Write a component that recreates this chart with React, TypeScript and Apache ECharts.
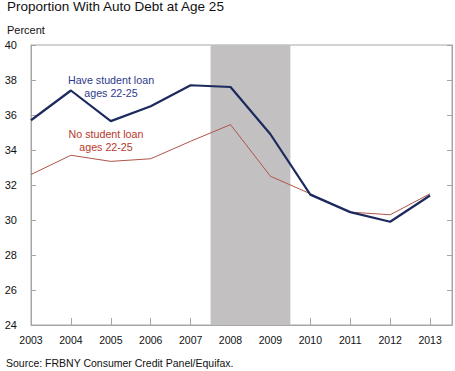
import React, { useEffect, useRef } from "react";
import * as echarts from "echarts";

const years = [2003, 2004, 2005, 2006, 2007, 2008, 2009, 2010, 2011, 2012, 2013];
const haveLoan = [35.7, 37.4, 35.65, 36.5, 37.7, 37.6, 34.9, 31.45, 30.45, 29.9, 31.4];
const noLoan = [32.6, 33.7, 33.35, 33.5, 34.5, 35.45, 32.5, 31.5, 30.45, 30.3, 31.5];
const recession = [2007.5, 2009.5];
const yTicks = [24, 26, 28, 30, 32, 34, 36, 38, 40];

const FONT = "'Liberation Sans', Arial, sans-serif";
const NAVY = "#1c2a5e";
const RED = "#b0554a";

export default function App() {
  const ref = useRef<HTMLDivElement>(null);
  useEffect(() => {
    if (!ref.current) return;
    const chart = echarts.init(ref.current, null, { renderer: "svg" });
    const axisColor = "#a6a6a6";
    chart.setOption({
      animation: false,
      backgroundColor: "#ffffff",
      grid: {
        left: 31,
        top: 45,
        right: 3,
        bottom: 46,
        show: true,
        borderColor: axisColor,
        borderWidth: 1,
      },
      xAxis: {
        type: "value",
        min: years[0],
        max: 2013.55,
        interval: 1,
        axisLine: { show: true, lineStyle: { color: axisColor } },
        axisTick: { show: true, inside: true, length: 7, lineStyle: { color: axisColor } },
        splitLine: { show: false },
        axisLabel: {
          color: "#111",
          fontFamily: FONT,
          fontSize: 10.5,
          margin: 9,
          showMaxLabel: false,
          formatter: (v: number) => (Number.isInteger(v) ? String(v) : ""),
        },
      },
      yAxis: [
        {
          type: "value",
          min: yTicks[0],
          max: yTicks[yTicks.length - 1],
          interval: 2,
          axisLine: { show: true, lineStyle: { color: axisColor } },
          axisTick: { show: true, inside: true, length: 5, lineStyle: { color: axisColor } },
          splitLine: { show: false },
          axisLabel: { color: "#111", fontFamily: FONT, fontSize: 11, margin: 14 },
        },
        {
          type: "value",
          position: "right",
          min: yTicks[0],
          max: yTicks[yTicks.length - 1],
          interval: 2,
          axisLine: { show: true, lineStyle: { color: axisColor } },
          axisTick: { show: true, inside: true, length: 5, lineStyle: { color: axisColor } },
          splitLine: { show: false },
          axisLabel: { show: false },
        },
      ],
      series: [
        {
          type: "line",
          name: "No student loan",
          data: years.map((y, i) => [y, noLoan[i]]),
          showSymbol: false,
          lineStyle: { color: RED, width: 1 },
          z: 3,
          markArea: {
            silent: true,
            itemStyle: { color: "#c2c0c0" },
            data: [[{ xAxis: recession[0] }, { xAxis: recession[1] }]],
          },
        },
        {
          type: "line",
          name: "Have student loan",
          data: years.map((y, i) => [y, haveLoan[i]]),
          showSymbol: false,
          lineStyle: { color: NAVY, width: 2.2 },
          z: 4,
        },
      ],
      graphic: [
        {
          type: "text",
          left: 7,
          top: -1,
          style: { text: "Proportion With Auto Debt at Age 25", fill: "#111", font: `13.5px ${FONT}` },
        },
        {
          type: "text",
          left: 7,
          top: 24,
          style: { text: "Percent", fill: "#111", font: `11px ${FONT}` },
        },
        {
          type: "text",
          x: 111,
          y: 86,
          style: {
            text: "Have student loan\nages 22-25",
            fill: "#2e3a8c",
            font: `10.7px ${FONT}`,
            align: "center",
            verticalAlign: "middle",
            lineHeight: 13,
          },
        },
        {
          type: "text",
          x: 106,
          y: 140,
          style: {
            text: "No student loan\nages 22-25",
            fill: "#b8372b",
            font: `10.7px ${FONT}`,
            align: "center",
            verticalAlign: "middle",
            lineHeight: 13,
          },
        },
        {
          type: "text",
          left: 6,
          top: 357,
          style: { text: "Source: FRBNY Consumer Credit Panel/Equifax.", fill: "#111", font: `10.5px ${FONT}` },
        },
      ],
    });
    return () => chart.dispose();
  }, []);
  return <div ref={ref} style={{ width: 455, height: 371, position: "fixed", left: 0, top: 0 }} />;
}
